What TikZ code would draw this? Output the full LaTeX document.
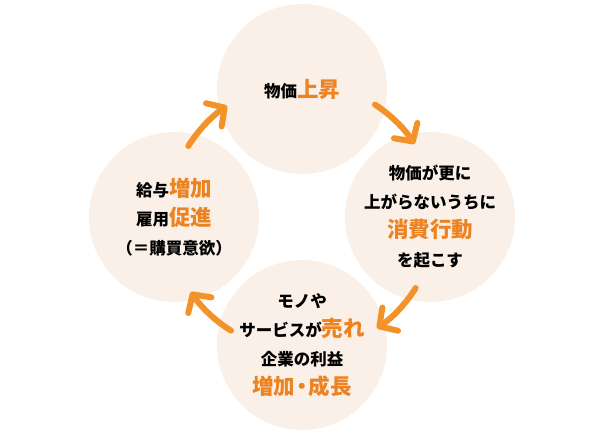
\documentclass[tikz,border=0pt]{standalone}
\usepackage{fontspec}
\setmainfont{Noto Sans CJK JP}
\usetikzlibrary{arrows.meta}
\definecolor{bubblefill}{RGB}{250,240,231}
\definecolor{arroworange}{RGB}{242,146,40}
\definecolor{textorange}{RGB}{236,130,32}
\newcommand{\orng}[1]{{\color{textorange}\fontsize{21.5}{29}\selectfont #1}}

\begin{document}
\begin{tikzpicture}[x=1pt,y=1pt,
    bubble/.style={circle, fill=bubblefill, minimum size=170pt, inner sep=0pt, align=center, font=\bfseries\fontsize{16.5}{29}\selectfont},
    cyc/.style={line width=6pt, line cap=round, arroworange, -{Straight Barb[length=13pt,width=28pt,round]}}]
    \useasboundingbox (0,0) rectangle (612,433);
    \coordinate (ctr) at (302,216);
    % the four steps of the cycle
    \node[bubble] (up) at (302,344) {物価\orng{上昇}};
    \node[bubble] (act) at (430,216) {物価が更に\\上がらないうちに\\\orng{消費行動}\\を起こす};
    \node[bubble] (sales) at (302,88) {モノや\\サービスが\orng{売れ}\\企業の利益\\\orng{増加\kern-4pt・\kern-4pt 成長}};
    \node[bubble] (wage) at (174,216) {給与\orng{増加}\\雇用\orng{促進}\\（＝購買意欲）};
    % arrows round the cycle
    \foreach \a in {45,-44,-134,136}
        \draw[cyc]([shift={(\a+12:134)}]ctr) arc[start angle=\a+12, end angle=\a-12, radius=134];
\end{tikzpicture}
\end{document}
